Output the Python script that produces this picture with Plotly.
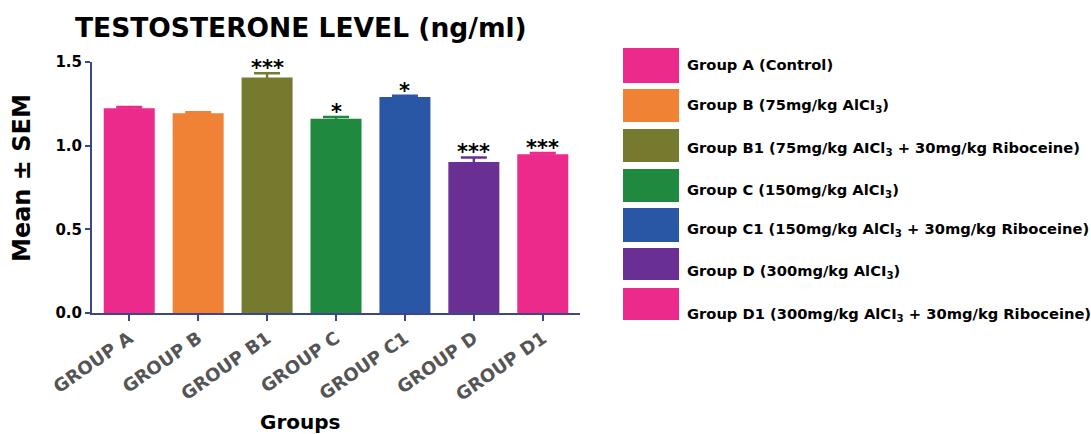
import plotly.graph_objects as go

categories = ["GROUP A", "GROUP B", "GROUP B1", "GROUP C", "GROUP C1", "GROUP D", "GROUP D1"]
means = [1.223, 1.193, 1.408, 1.161, 1.291, 0.902, 0.948]
sems = [0.008, 0.006, 0.025, 0.010, 0.008, 0.028, 0.008]
stars = ["", "", "***", "*", "*", "***", "***"]
colors = ["#EC2A8C", "#F08236", "#757A2E", "#1F8A3F", "#2A56A6", "#6A2F92", "#EC2A8C"]
legend_labels = [
    "Group A (Control)",
    "Group B (75mg/kg AlCI<sub>3</sub>)",
    "Group B1 (75mg/kg AICl<sub>3</sub> + 30mg/kg Riboceine)",
    "Group C (150mg/kg AlCI<sub>3</sub>)",
    "Group C1 (150mg/kg AlCl<sub>3</sub> + 30mg/kg Riboceine)",
    "Group D (300mg/kg AlCI<sub>3</sub>)",
    "Group D1 (300mg/kg AlCI<sub>3</sub> + 30mg/kg Riboceine)",
]
yticks = [0.0, 0.5, 1.0, 1.5]

W, H = 1091, 434
ML, MR, MT, MB = 92, 0, 62, 121
PW, PH = W - ML - MR, H - MT - MB

def px(x):
    return (x - ML) / PW

def py(y):
    return (H - MB - y) / PH

FONT = "DejaVu Sans"

fig = go.Figure()
for cat, m, s, c in zip(categories, means, sems, colors):
    fig.add_trace(go.Bar(
        x=[cat], y=[m], width=0.74,
        marker=dict(color=c, line=dict(width=0)),
        error_y=dict(type="data", array=[s], color=c, thickness=2.5, width=13),
        showlegend=False,
    ))

annotations = []
for cat, m, s, st in zip(categories, means, sems, stars):
    if st:
        annotations.append(dict(
            x=cat, y=m + s, xref="x", yref="y", text=st, showarrow=False,
            yanchor="bottom", yshift=-9,
            font=dict(family=FONT, size=21, color="black", weight="bold"),
        ))

# Legend drawn as swatches + labels
sw_top = [48, 89, 129, 169, 208, 248, 288]
sw_bot = [83, 122, 162, 202, 242, 280, 320]
text_y = [64, 106, 148, 190, 229, 271, 314]
shapes = []
for t, b, ty, c, lab in zip(sw_top, sw_bot, text_y, colors, legend_labels):
    shapes.append(dict(type="rect", xref="paper", yref="paper",
                       x0=px(623), x1=px(679), y0=py(b), y1=py(t),
                       fillcolor=c, line=dict(width=0)))
    annotations.append(dict(
        x=px(685), y=py(ty), xref="paper", yref="paper", text=lab,
        showarrow=False, xanchor="left", yanchor="middle",
        font=dict(family=FONT, size=14.7, color="black", weight="bold"),
    ))

annotations.append(dict(
    x=px(301), y=py(28), xref="paper", yref="paper",
    text="TESTOSTERONE LEVEL (ng/ml)", showarrow=False,
    xanchor="center", yanchor="middle",
    font=dict(family=FONT, size=26.5, color="black", weight="bold"),
))
annotations.append(dict(
    x=px(300), y=py(422), xref="paper", yref="paper",
    text="Groups", showarrow=False, xanchor="center", yanchor="middle",
    font=dict(family=FONT, size=20, color="black", weight="bold"),
))
annotations.append(dict(
    x=px(22), y=py(178), xref="paper", yref="paper",
    text="Mean ± SEM", showarrow=False, textangle=-90,
    xanchor="center", yanchor="middle",
    font=dict(family=FONT, size=24, color="black", weight="bold"),
))

fig.update_layout(
    width=W, height=H,
    margin=dict(l=ML, r=MR, t=MT, b=MB),
    paper_bgcolor="white", plot_bgcolor="white",
    barmode="overlay",
    showlegend=False,
    shapes=shapes,
    annotations=annotations,
    xaxis=dict(
        domain=[0, px(580)],
        range=[-0.54, 6.54],
        tickangle=-35,
        tickfont=dict(family=FONT, size=18, color="#555555", weight="bold"),
        showline=True, linecolor="#3B4789", linewidth=2,
        ticks="outside", tickcolor="#3B4789", ticklen=6, tickwidth=2,
        showgrid=False, zeroline=False,
    ),
    yaxis=dict(
        range=[0, 1.5],
        tickvals=yticks,
        ticktext=[f"{v:.1f}" for v in yticks],
        tickfont=dict(family=FONT, size=15, color="black", weight="bold"),
        showline=True, linecolor="#3B4789", linewidth=2,
        ticks="outside", tickcolor="#3B4789", ticklen=5, tickwidth=2,
        showgrid=False, zeroline=False,
    ),
)

fig.write_html("out.html", config={"displayModeBar": False},
               post_script="document.body.style.margin='0px';")
